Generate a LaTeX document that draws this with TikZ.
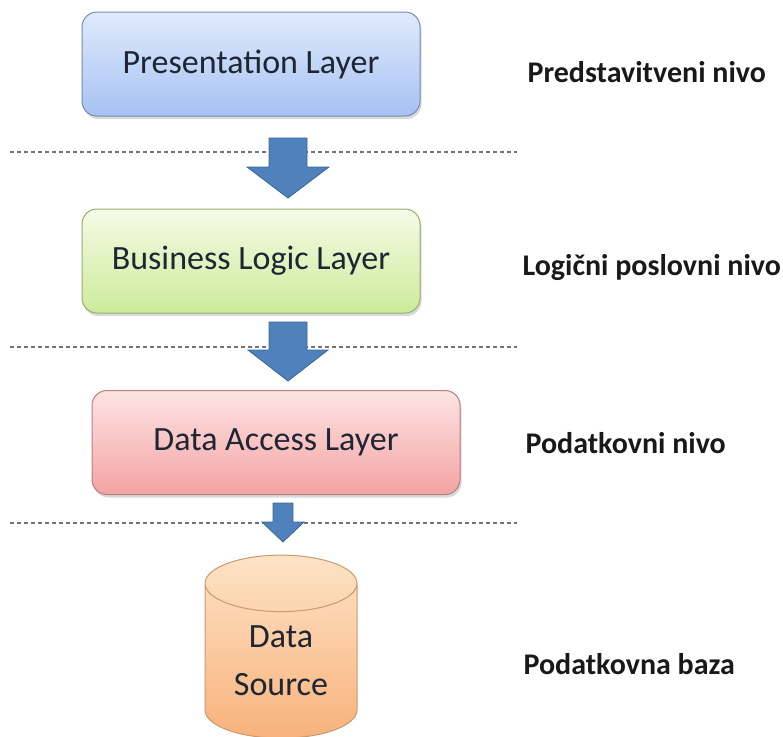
\documentclass[tikz,border=0pt]{standalone}
\usepackage{fontspec}
\setmainfont{Carlito}
\usetikzlibrary{shapes.geometric,shadows}

\definecolor{arrowblue}{HTML}{4F81BD}
\definecolor{arrowedge}{HTML}{3A6595}
\definecolor{textdark}{HTML}{1E2633}

\tikzset{
  layer/.style={rounded corners=15pt, draw, line width=1pt, minimum width=338pt,
    minimum height=104pt, font=\fontsize{34}{36}\selectfont, text=textdark,
    drop shadow={shadow xshift=1.5pt, shadow yshift=-3pt, opacity=0.3}},
  flowarrow/.style={fill=arrowblue, draw=arrowedge, line width=0.8pt, line join=miter},
  tierlabel/.style={anchor=west, font=\bfseries\fontsize{30}{32}\selectfont, text=black!90},
  divider/.style={draw=black!55, line width=1.1pt, dash pattern=on 4pt off 3pt}
}

% block arrow pointing down: centre x, shaft top, head base, tip, shaft half width, head half width
\newcommand\tierarrow[6]{%
  \path[flowarrow] (#1-#5,#2) -- (#1+#5,#2) -- (#1+#5,#3) -- (#1+#6,#3)
    -- (#1,#4) -- (#1-#6,#3) -- (#1-#5,#3) -- cycle;}

\begin{document}
\begin{tikzpicture}[x=1pt, y=-1pt]
\useasboundingbox (0,0) rectangle (783,736);

% tier separators
\draw[divider] (10,152) -- (517,152);
\draw[divider] (10,347) -- (517,347);
\draw[divider] (10,523) -- (517,523);

% layers
\node[layer, draw={rgb,255:red,120;green,140;blue,175},
  top color={rgb,255:red,224;green,234;blue,252}, bottom color={rgb,255:red,166;green,194;blue,242}]
  (pres) at (251,64) {Presentation Layer};
\node[layer, draw={rgb,255:red,150;green,175;blue,110},
  top color={rgb,255:red,245;green,251;blue,231}, bottom color={rgb,255:red,205;green,235;blue,154}]
  (bll) at (251,261) {Business Logic Layer};
\node[layer, minimum width=368pt, draw={rgb,255:red,180;green,128;blue,128},
  top color={rgb,255:red,253;green,228;blue,228}, bottom color={rgb,255:red,244;green,163;blue,163}]
  (dal) at (276,442.5) {Data Access Layer};

% database
\node[cylinder, shape border rotate=90, aspect=0.6, draw={rgb,255:red,200;green,154;blue,112}, line width=1pt,
  minimum width=152pt, minimum height=183pt, top color={rgb,255:red,253;green,227;blue,198},
  bottom color={rgb,255:red,248;green,178;blue,124}, align=center, text=textdark,
  font=\fontsize{34}{48}\selectfont, inner sep=0pt]
  (src) at (281,661) {Data\\Source};

% flow between tiers
\tierarrow{288}{138}{167}{198}{19}{41}
\tierarrow{288}{322}{350}{381}{19}{40}
\tierarrow{283}{503}{522}{542}{10}{21}

% tier names
\node[tierlabel] (t1) at (524,72) {Predstavitveni nivo};
\node[tierlabel] (t2) at (519,268) {Logični poslovni nivo};
\node[tierlabel] (t3) at (522,443) {Podatkovni nivo};
\node[tierlabel] (t4) at (520,664) {Podatkovna baza};
\end{tikzpicture}
\end{document}
